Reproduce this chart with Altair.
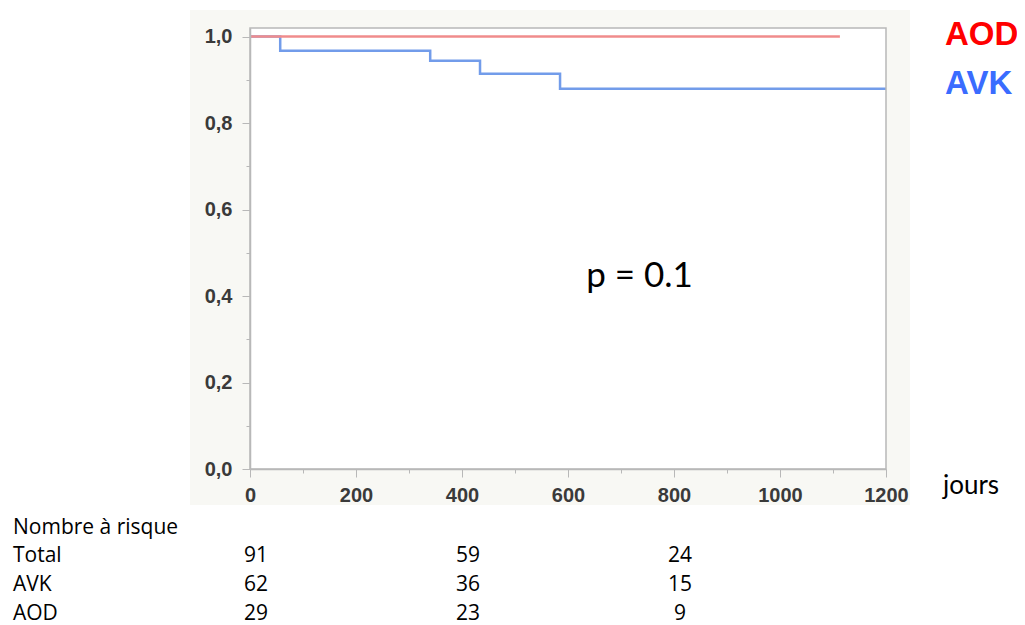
import altair as alt
import pandas as pd

# ---- data ----
avk_days = [0, 57, 340, 434, 585, 1200]
avk_surv = [1.0, 0.967, 0.944, 0.914, 0.879, 0.879]
aod_days = [0, 1113]
aod_surv = [1.0, 1.0]

groups = ["AOD", "AVK"]
group_colors = ["#f08c8c", "#729cea"]
legend_colors = ["#ff0000", "#3a6cff"]

risk_times = [0, 400, 800]
risk_rows = ["Total", "AVK", "AOD"]
risk_total = [91, 59, 24]
risk_avk = [62, 36, 15]
risk_aod = [29, 23, 9]

x_ticks = list(range(0, 1201, 100))
y_ticks = [i / 10 for i in range(0, 11)]

W, H = 636, 441

curves = pd.DataFrame(
    {"days": avk_days + aod_days,
     "surv": avk_surv + aod_surv,
     "group": ["AVK"] * len(avk_days) + ["AOD"] * len(aod_days)}
)

x_scale = alt.Scale(domain=[0, 1200], nice=False)
y_scale = alt.Scale(domain=[0, 1.0197], nice=False)

one = pd.DataFrame({"a": [0]})

bg = alt.Chart(one).mark_rect(color="#f8f8f4").encode(
    x=alt.value(-60), x2=alt.value(660), y=alt.value(-18), y2=alt.value(477)
)
plot_bg = alt.Chart(one).mark_rect(color="white").encode(
    x=alt.value(0), x2=alt.value(W), y=alt.value(0), y2=alt.value(H)
)
frame = alt.Chart(one).mark_rect(filled=False, stroke="#b8b8b8", strokeWidth=1.5).encode(
    x=alt.value(0), x2=alt.value(W), y=alt.value(0), y2=alt.value(H)
)

x_axis = alt.Axis(
    values=x_ticks, title=None, grid=False, zindex=2,
    labelExpr="datum.value % 200 === 0 ? format(datum.value, 'd') : ''",
    tickSize={"condition": {"test": "datum.value % 200 === 0", "value": 8}, "value": 4},
    labelFont="Liberation Sans", labelFontSize=20, labelFontWeight="bold",
    labelColor="#3a3a3a", labelPadding=8, domainColor="#b8b8b8",
    tickColor="#b8b8b8", domainWidth=1.5, labelFlush=False,
)
y_axis = alt.Axis(
    values=y_ticks, title=None, grid=False, zindex=2,
    labelExpr="round(datum.value*10) % 2 === 0 ? replace(format(datum.value, '.1f'), '.', ',') : ''",
    tickSize={"condition": {"test": "round(datum.value*10) % 2 === 0", "value": 8}, "value": 4},
    labelFont="Liberation Sans", labelFontSize=20, labelFontWeight="bold",
    labelColor="#3a3a3a", labelPadding=10, domainColor="#b8b8b8",
    tickColor="#b8b8b8", domainWidth=1.5,
)

lines = alt.Chart(curves).mark_line(interpolate="step-after", strokeWidth=2.5).encode(
    x=alt.X("days:Q", scale=x_scale, axis=x_axis),
    y=alt.Y("surv:Q", scale=y_scale, axis=y_axis),
    color=alt.Color("group:N", scale=alt.Scale(domain=groups, range=group_colors), legend=None),
    detail="group:N",
)

legend_df = pd.DataFrame({"label": groups, "color": legend_colors, "py": [7, 56]})
legend_txt = alt.Chart(legend_df).mark_text(
    font="Liberation Sans", fontSize=33, fontWeight="bold", align="left", baseline="middle"
).encode(
    text="label:N", x=alt.value(695),
    y=alt.Y("py:Q", scale=None),
    color=alt.Color("color:N", scale=None),
)

p_df = pd.DataFrame({"days": [735], "surv": [0.447], "t": ["p = 0.1"]})
p_txt = alt.Chart(p_df).mark_text(font="Lato", fontSize=35, color="black").encode(
    x=alt.X("days:Q", scale=x_scale), y=alt.Y("surv:Q", scale=y_scale), text="t:N"
)

jours = alt.Chart(pd.DataFrame({"t": ["jours"]})).mark_text(
    font="Lato", fontSize=26, align="left", baseline="middle", color="black"
).encode(text="t:N", x=alt.value(693), y=alt.value(458))

TFONT, TSIZE = "Open Sans", 21

header = alt.Chart(pd.DataFrame({"t": ["Nombre à risque"]})).mark_text(
    font=TFONT, fontSize=TSIZE, align="left", baseline="middle", color="black"
).encode(text="t:N", x=alt.value(-237), y=alt.value(500))

row_y = [528, 557, 586]
row_df = pd.DataFrame({"t": risk_rows, "py": row_y})
row_lbl = alt.Chart(row_df).mark_text(
    font=TFONT, fontSize=TSIZE, align="left", baseline="middle", color="black"
).encode(text="t:N", x=alt.value(-237), y=alt.Y("py:Q", scale=None))

risk_df = pd.DataFrame({
    "days": risk_times * 3,
    "n": risk_total + risk_avk + risk_aod,
    "py": [row_y[0]] * 3 + [row_y[1]] * 3 + [row_y[2]] * 3,
})
risk_txt = alt.Chart(risk_df).mark_text(
    font=TFONT, fontSize=TSIZE, baseline="middle", color="black", dx=6
).encode(
    x=alt.X("days:Q", scale=x_scale), y=alt.Y("py:Q", scale=None), text="n:Q"
)

chart = alt.layer(
    bg, plot_bg, lines, frame, legend_txt, p_txt, jours, header, row_lbl, risk_txt
).properties(
    width=W, height=H,
    padding={"left": 242, "top": 20, "right": 131, "bottom": 156},
    autosize=alt.AutoSizeParams(type="none"),
).configure_view(
    stroke=None
)

chart.save("out.html", embed_options={"renderer": "svg", "actions": False})
